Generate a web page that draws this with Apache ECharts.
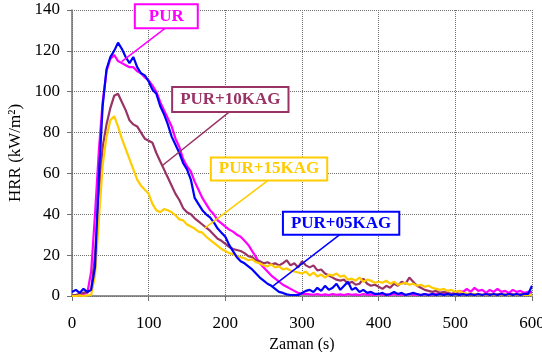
<!DOCTYPE html>
<html>
<head>
    <meta charset="utf-8">
    <title>HRR</title>
    <script src="https://cdn.jsdelivr.net/npm/echarts@6/dist/echarts.min.js"></script>
</head>
<body style="margin:0;background:#fff;">
<div id="chart1" style="width:542px;height:352px;"></div>
<script type="text/javascript">
    // zaman adimi (s), degerler 0..600 s arasi her 5 s icin okundu
    var adim = 5;

    var pur = [
        0.5, 0.5, 1, 1, 1.5, 12, 40, 71, 95, 110,
        116, 118, 115, 114, 113, 112, 112, 110, 109, 107,
        105.5, 103, 100, 95, 91, 87, 83, 77, 73, 67,
        63.5, 61, 56, 52, 48, 45, 42, 40, 37, 35.5,
        34, 32.5, 31.5, 30, 29, 27, 25, 22, 19, 16,
        14, 12, 10, 8.5, 7, 5.5, 4.5, 3.5, 2.5, 1.5,
        1, 1, 0.8, 0.6, 1, 0.5, 0.8, 0.5, 1, 0.6,
        0.8, 0.5, 1, 0.6, 0.8, 0.5, 1, 0.6, 0.8, 0.5,
        1, 0.6, 0.8, 0.5, 1, 0.6, 0.8, 0.5, 1, 0.6,
        0.8, 0.5, 1, 0.6, 0.8, 1, 1.5, 1, 1.2, 1,
        1.5, 2.5, 2, 3.5, 2, 4, 2.5, 3, 1.5, 3,
        2, 3.5, 2, 2.5, 1.5, 3, 2, 2.5, 1.5, 2,
        2
    ];
    var pur10 = [
        0.5, 0.5, 1, 1.5, 2, 3, 20, 50, 73, 84,
        92, 98, 99, 95, 91, 86, 84, 83, 80, 77,
        76, 75, 70, 66, 62, 58, 54, 50, 47, 43,
        41, 40, 38, 36.5, 35, 33.5, 32, 30, 28, 27,
        25.5, 24, 23, 22.5, 22, 21, 19.5, 19, 17.5, 17,
        16, 16.5, 15.5, 16, 15, 16, 17.5, 15, 16, 14,
        17, 15, 14, 15, 12.5, 13, 11, 10, 9, 8,
        7.5, 8, 6, 7, 5.5, 6, 8.5, 6, 5, 5.5,
        4.5, 3.5, 5, 4, 6, 5, 7, 6, 9, 7,
        5, 4, 3, 2.5, 2, 2.5, 1.5, 2, 1.5, 1,
        1.5, 1, 0.8, 1, 0.6, 0.8, 1, 0.6, 0.8, 1,
        0.6, 0.8, 1, 0.6, 0.8, 1, 0.6, 0.8, 1, 0.6,
        0.8
    ];
    var pur15 = [
        0, 0, 0.3, 0, 0.3, 0.5, 10, 37, 64, 78,
        86, 88, 83, 77, 72, 67, 62, 57, 54, 52,
        50, 45, 42, 41, 42.5, 42, 41, 39.5, 37.5, 37,
        35, 34, 33, 31.5, 31, 29, 27.5, 26, 24.5, 23,
        22, 21, 20.5, 19.5, 19, 18.5, 17.5, 18, 16.5, 16,
        15, 14.5, 15.5, 14, 14.5, 13, 13.5, 12.5, 12, 11.5,
        11, 12, 10, 11.5, 9.5, 10.5, 9, 10.5, 10, 11,
        9.5, 10, 8, 8.5, 7.5, 9, 7, 8, 7.5, 6.5,
        7, 6.5, 7.5, 6, 7, 5.5, 6, 6.5, 5.5, 6,
        5, 5.5, 4.5, 5, 4, 3.5, 3, 3.5, 2.5, 3,
        2, 2.5, 1.5, 1, 1.2, 0.8, 1, 0.6, 0.8, 0.5,
        0.8, 0.5, 0.6, 0.8, 0.5, 0.6, 0.8, 0.5, 0.6, 0.5,
        0.5
    ];
    var pur05 = [
        2, 3, 1.5, 3.5, 2, 3, 14, 58, 93, 111,
        117, 120, 124, 121, 117, 114, 117, 112, 109, 108,
        105, 101, 99, 93, 89, 84, 78, 74, 70, 65,
        62, 57, 48, 45, 42, 40, 38.5, 36, 33, 31,
        29, 25, 22, 19, 17, 16, 14.5, 13, 11, 9,
        7.5, 6, 5, 3.5, 2, 1.5, 0.8, 0.5, 0.5, 0.5,
        1.5, 2.5, 3, 2, 4, 2.5, 5, 3, 4, 6,
        3, 5, 7, 3, 4, 2, 3, 1.5, 2, 1,
        1, 1.5, 0.5, 1, 2, 1, 1.5, 0.5, 1, 1.5,
        1, 0.5, 1, 0.5, 1, 0.5, 1, 0.5, 1, 0.5,
        1, 0.5, 1, 0.5, 1, 0.5, 1, 0.5, 1, 0.5,
        1, 0.5, 1, 0.5, 1, 0.5, 1, 0.5, 1, 1,
        5
    ];

    var seriAdlari = ['PUR', 'PUR+10KAG', 'PUR+15KAG', 'PUR+05KAG'];
    var renkler = ['#FF00FF', '#993366', '#FFCC00', '#0000FF'];

    // etiket kutusu (alt orta nokta) ve isaret ettigi nokta, veri koordinatinda
    var kutular = [[123, 131.5], [206.5, 90.5], [257, 57], [351, 30.5]];
    var uclar = [[64.7, 114.7], [118.3, 64], [173.2, 33.2], [260.8, 4.5]];
    var dolgular = [[2, 13], [2.5, 7], [1.5, 7], [1.5, 7]];

    function ciftler(arr) {
        var sonuc = [];
        for (var i = 0; i < arr.length; i++) {
            sonuc.push([i * adim, arr[i]]);
        }
        return sonuc;
    }

    var veriler = [pur, pur10, pur15, pur05];
    var seriler = [];
    for (var k = 0; k < veriler.length; k++) {
        seriler.push({
            name: seriAdlari[k],
            type: 'line',
            data: ciftler(veriler[k]),
            showSymbol: false,
            symbol: 'none',
            animation: false,
            lineStyle: {color: renkler[k], width: 2.2},
            itemStyle: {color: renkler[k]}
        });
    }

    var yazi = '"Liberation Serif", "Times New Roman", serif';
    var eksenRengi = '#707070';

    var myChart1 = echarts.init(document.getElementById('chart1'));
    myChart1.setOption({
        animation: false,
        backgroundColor: '#fff',
        grid: {left: 72, right: 10, top: 10, bottom: 56, containLabel: false, outerBoundsMode: 'none'},
        xAxis: {
            type: 'value',
            min: 0,
            max: 600,
            interval: 100,
            name: 'Zaman (s)',
            nameLocation: 'middle',
            nameGap: 30,
            nameTextStyle: {fontFamily: yazi, fontSize: 16, color: '#000'},
            axisLine: {lineStyle: {color: eksenRengi, width: 1.5}},
            axisTick: {show: true, length: 5, lineStyle: {color: eksenRengi}},
            axisLabel: {fontFamily: yazi, fontSize: 17, color: '#000', margin: 19, showMaxLabel: true, showMinLabel: true},
            splitLine: {show: true, lineStyle: {color: '#707070', type: 'dotted', width: 1}}
        },
        yAxis: {
            type: 'value',
            min: 0,
            max: 140,
            interval: 20,
            name: 'HRR (kW/m²)',
            nameLocation: 'middle',
            nameGap: 44,
            nameTextStyle: {fontFamily: yazi, fontSize: 17, color: '#000'},
            axisLine: {show: true, lineStyle: {color: eksenRengi, width: 1.5}},
            axisTick: {show: true, length: 5, lineStyle: {color: eksenRengi}},
            axisLabel: {fontFamily: yazi, fontSize: 17, color: '#000', margin: 12},
            splitLine: {show: true, lineStyle: {color: '#707070', type: 'dotted', width: 1}}
        },
        series: seriler
    });

    // etiket kutulari ve oklari
    var grafik = [];
    for (var j = 0; j < kutular.length; j++) {
        var a = myChart1.convertToPixel({xAxisIndex: 0, yAxisIndex: 0}, kutular[j]);
        var b = myChart1.convertToPixel({xAxisIndex: 0, yAxisIndex: 0}, uclar[j]);
        grafik.push({
            type: 'line',
            z: 100,
            shape: {x1: a[0], y1: a[1], x2: b[0], y2: b[1]},
            style: {stroke: renkler[j], lineWidth: 1.5}
        });
        grafik.push({
            type: 'text',
            z: 101,
            x: a[0],
            y: a[1],
            style: {
                text: seriAdlari[j],
                fill: renkler[j],
                font: 'bold 17px ' + yazi,
                align: 'center',
                verticalAlign: 'bottom',
                lineHeight: 18,
                backgroundColor: '#fff',
                borderColor: renkler[j],
                borderWidth: 2,
                padding: dolgular[j]
            }
        });
    }
    myChart1.setOption({graphic: grafik});
</script>
</body>
</html>
